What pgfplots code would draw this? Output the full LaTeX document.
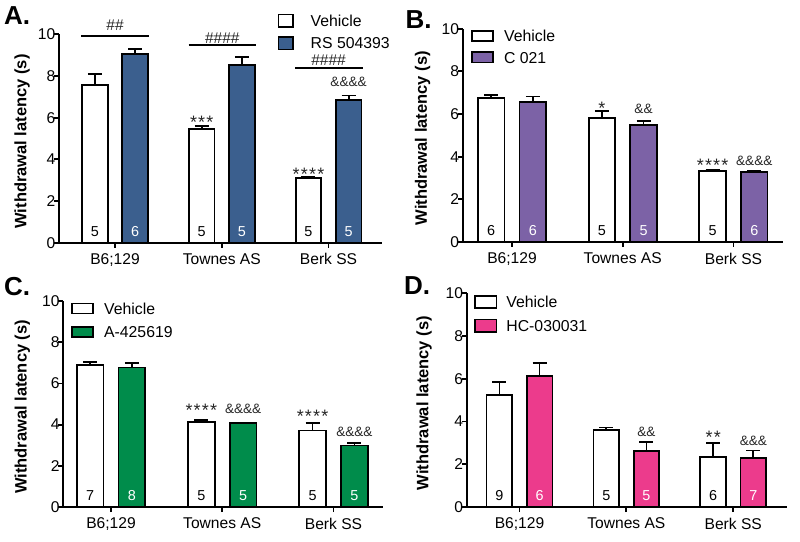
\documentclass[border=0pt]{standalone}
\usepackage{fontspec}
\setmainfont{Liberation Sans}
\usepackage{pgfplots}
\usepackage{pgfplotstable}
\pgfplotsset{compat=1.18}
\definecolor{cA}{HTML}{3B5F8E}
\definecolor{cB}{HTML}{7C62A6}
\definecolor{cC}{HTML}{008C4B}
\definecolor{cD}{HTML}{EC3B8C}
\definecolor{txt}{HTML}{262626}

\newcommand{\legbox}[3]{\addlegendimage{legend image code/.code={\draw[fill=#1, draw=black, line width=1.8pt] (0pt,-#3) rectangle (#2,#3);}}}
\newcommand{\aster}[1]{\ifcase#1\or *\or *\kern1.2pt*\or *\kern1.2pt*\kern1.2pt*\or *\kern1.2pt*\kern1.2pt*\kern1.2pt*\fi}

\tikzset{
  cnt/.style={font=\fontsize{14.4}{16}\selectfont, anchor=base, inner sep=0pt},
  ann/.style={font=\fontsize{13.6}{16}\selectfont, text=txt, inner sep=0pt},
  hash/.style={font=\fontsize{15.5}{18}\selectfont, text=txt, inner sep=0pt},
  ast/.style={font=\fontsize{18}{20}\selectfont, text=txt, inner sep=0pt},
}
\pgfplotsset{
  panel/.style={
    scale only axis, clip=false,
    ymin=0, ymax=10, ytick={0,2,...,10},
    xtick={0,1,2}, xticklabels={B6;129, Townes AS, Berk SS},
    axis x line*=bottom, axis y line*=left,
    axis line style={line width=1.8pt, -},
    tick align=outside, major tick length=5pt,
    tick style={line width=1.8pt, black},
    ticklabel style={font=\fontsize{15.6}{18}\selectfont},
    /pgf/number format/assume math mode=true,
    xticklabel style={inner sep=0pt, anchor=north, yshift=-5.5pt},
    yticklabel style={inner sep=0pt, anchor=east, xshift=1.5pt},
    ylabel={Withdrawal latency (s)},
    ylabel style={font=\bfseries\fontsize{16.5}{19}\selectfont, anchor=center},
    legend cell align=left,
    legend style={draw=none, fill=none, inner sep=0pt, outer sep=0pt, anchor=north west,
      font=\fontsize{15.8}{19}\selectfont, nodes={inner sep=0pt, text depth=0pt}},
  },
  barplot/.style={ybar, bar shift=0pt, bar width=0.24, draw=black, line width=1.8pt, fill=#1,
    error bars/y dir=plus, error bars/y explicit,
    error bars/error bar style={line width=1.8pt, black},
    error bars/error mark options={rotate=90, line width=1.8pt, black, mark size=7pt}},
}

% Panel A
\pgfplotstableread{
x y e
-0.188 7.57 0.51
0.812 5.46 0.13
1.812 3.12 0.05
}\tAv
\pgfplotstableread{
x y e
0.188 9.07 0.22
1.188 8.53 0.37
2.188 6.85 0.21
}\tAd
% Panel B
\pgfplotstableread{
x y e
-0.188 6.74 0.14
0.812 5.81 0.35
1.812 3.33 0.05
}\tBv
\pgfplotstableread{
x y e
0.188 6.56 0.26
1.188 5.49 0.19
2.188 3.30 0.03
}\tBd
% Panel C
\pgfplotstableread{
x y e
-0.188 6.90 0.12
0.812 4.11 0.13
1.812 3.71 0.37
}\tCv
\pgfplotstableread{
x y e
0.188 6.77 0.21
1.188 4.06 0.04
2.188 2.99 0.10
}\tCd
% Panel D
\pgfplotstableread{
x y e
-0.188 5.25 0.59
0.812 3.62 0.10
1.812 2.34 0.64
}\tDv
\pgfplotstableread{
x y e
0.188 6.14 0.60
1.188 2.61 0.45
2.188 2.28 0.36
}\tDd

\begin{document}
\begin{tikzpicture}
\useasboundingbox (0,0) rectangle (800pt,541pt);

% ---------------- A ----------------
\begin{axis}[panel, at={(59pt,298.2pt)}, anchor=south west, width=322.7pt, height=208.5pt,
  xmin=-0.525, xmax=2.498,
  ylabel style={at={(axis description cs:-0.1147,0.486)}},
  legend style={at={(0.6774,1.0993)}, row sep=8.8pt, /tikz/every odd column/.append style={column sep=16.5pt}}]
\legbox{white}{14.8pt}{6.1pt}\addlegendentry{Vehicle}
\legbox{cA}{14.8pt}{6.1pt}\addlegendentry{RS 504393}
\addplot[barplot=white, forget plot] table[x=x, y=y, y error=e] {\tAv};
\addplot[barplot=cA, forget plot] table[x=x, y=y, y error=e] {\tAd};
\draw[line width=1.8pt] (axis cs:-0.318,9.92) -- (axis cs:0.321,9.92);
\draw[line width=1.8pt] (axis cs:0.689,9.49) -- (axis cs:1.323,9.49);
\draw[line width=1.8pt] (axis cs:1.686,8.40) -- (axis cs:2.320,8.40);
\node[hash] at (axis cs:0,10.45) {\#\#};
\node[hash] at (axis cs:1.005,9.81) {\#\#\#\#};
\node[hash] at (axis cs:2.0,8.77) {\#\#\#\#};
\node[ann] at (axis cs:2.188,7.70) {\&\&\&\&};
\node[ast] at (axis cs:0.812,5.78) {\aster{3}};
\node[ast] at (axis cs:1.812,3.30) {\aster{4}};
\node[cnt] at (axis cs:-0.188,0.31) {5};
\node[cnt, text=white] at (axis cs:0.188,0.31) {6};
\node[cnt] at (axis cs:0.812,0.31) {5};
\node[cnt, text=white] at (axis cs:1.188,0.31) {5};
\node[cnt] at (axis cs:1.812,0.31) {5};
\node[cnt, text=white] at (axis cs:2.188,0.31) {5};
\end{axis}

% ---------------- B ----------------
\begin{axis}[panel, at={(462.7pt,299pt)}, anchor=south west, width=320.6pt, height=213.3pt,
  xmin=-0.445, xmax=2.45,
  ylabel style={at={(axis description cs:-0.125,0.486)}},
  legend style={at={(0.0256,0.993)}, row sep=9.3pt, /tikz/every odd column/.append style={column sep=10.5pt}}]
\legbox{white}{20.9pt}{5.1pt}\addlegendentry{Vehicle}
\legbox{cB}{20.9pt}{5.1pt}\addlegendentry{C 021}
\addplot[barplot=white, forget plot] table[x=x, y=y, y error=e] {\tBv};
\addplot[barplot=cB, forget plot] table[x=x, y=y, y error=e] {\tBd};
\node[ast] at (axis cs:0.812,6.29) {\aster{1}};
\node[ann] at (axis cs:1.188,6.22) {\&\&};
\node[ast] at (axis cs:1.812,3.58) {\aster{4}};
\node[ann] at (axis cs:2.188,3.80) {\&\&\&\&};
\node[cnt] at (axis cs:-0.188,0.31) {6};
\node[cnt, text=white] at (axis cs:0.188,0.31) {6};
\node[cnt] at (axis cs:0.812,0.31) {5};
\node[cnt, text=white] at (axis cs:1.188,0.31) {5};
\node[cnt] at (axis cs:1.812,0.31) {5};
\node[cnt, text=white] at (axis cs:2.188,0.31) {6};
\end{axis}

% ---------------- C ----------------
\begin{axis}[panel, at={(63.3pt,34pt)}, anchor=south west, width=319.7pt, height=206pt,
  xmin=-0.429, xmax=2.445,
  ylabel style={at={(axis description cs:-0.128,0.486)}},
  legend style={at={(0.0238,0.992)}, row sep=11.8pt, /tikz/every odd column/.append style={column sep=10.5pt}}]
\legbox{white}{20.9pt}{4.95pt}\addlegendentry{Vehicle}
\legbox{cC}{20.9pt}{4.95pt}\addlegendentry{A-425619}
\addplot[barplot=white, forget plot] table[x=x, y=y, y error=e] {\tCv};
\addplot[barplot=cC, forget plot] table[x=x, y=y, y error=e] {\tCd};
\node[ast] at (axis cs:0.812,4.67) {\aster{4}};
\node[ann] at (axis cs:1.188,4.78) {\&\&\&\&};
\node[ast] at (axis cs:1.812,4.38) {\aster{4}};
\node[ann] at (axis cs:2.188,3.64) {\&\&\&\&};
\node[cnt] at (axis cs:-0.188,0.31) {7};
\node[cnt, text=white] at (axis cs:0.188,0.31) {8};
\node[cnt] at (axis cs:0.812,0.31) {5};
\node[cnt, text=white] at (axis cs:1.188,0.31) {5};
\node[cnt] at (axis cs:1.812,0.31) {5};
\node[cnt, text=white] at (axis cs:2.188,0.31) {5};
\end{axis}

% ---------------- D ----------------
\begin{axis}[panel, at={(466.7pt,34pt)}, anchor=south west, width=320pt, height=213.7pt,
  xmin=-0.494, xmax=2.5,
  ylabel style={at={(axis description cs:-0.133,0.486)}},
  legend style={at={(0.0234,0.9925)}, row sep=9.3pt, /tikz/every odd column/.append style={column sep=8.9pt}}]
\legbox{white}{21.5pt}{6.25pt}\addlegendentry{Vehicle}
\legbox{cD}{21.5pt}{6.25pt}\addlegendentry{HC-030031}
\addplot[barplot=white, forget plot] table[x=x, y=y, y error=e] {\tDv};
\addplot[barplot=cD, forget plot] table[x=x, y=y, y error=e] {\tDd};
\node[ann] at (axis cs:1.188,3.53) {\&\&};
\node[ast] at (axis cs:1.812,3.27) {\aster{2}};
\node[ann] at (axis cs:2.188,3.11) {\&\&\&};
\node[cnt] at (axis cs:-0.188,0.31) {9};
\node[cnt, text=white] at (axis cs:0.188,0.31) {6};
\node[cnt] at (axis cs:0.812,0.31) {5};
\node[cnt, text=white] at (axis cs:1.188,0.31) {5};
\node[cnt] at (axis cs:1.812,0.31) {6};
\node[cnt, text=white] at (axis cs:2.188,0.31) {7};
\end{axis}

% panel letters
\node[font=\bfseries\fontsize{26}{30}\selectfont, anchor=north west, inner sep=0pt] at (4pt,534.3pt) {A.};
\node[font=\bfseries\fontsize{26}{30}\selectfont, anchor=north west, inner sep=0pt] at (405.5pt,531pt) {B.};
\node[font=\bfseries\fontsize{26}{30}\selectfont, anchor=north west, inner sep=0pt] at (4pt,264.3pt) {C.};
\node[font=\bfseries\fontsize{26}{30}\selectfont, anchor=north west, inner sep=0pt] at (404pt,264.3pt) {D.};
\end{tikzpicture}
\end{document}
